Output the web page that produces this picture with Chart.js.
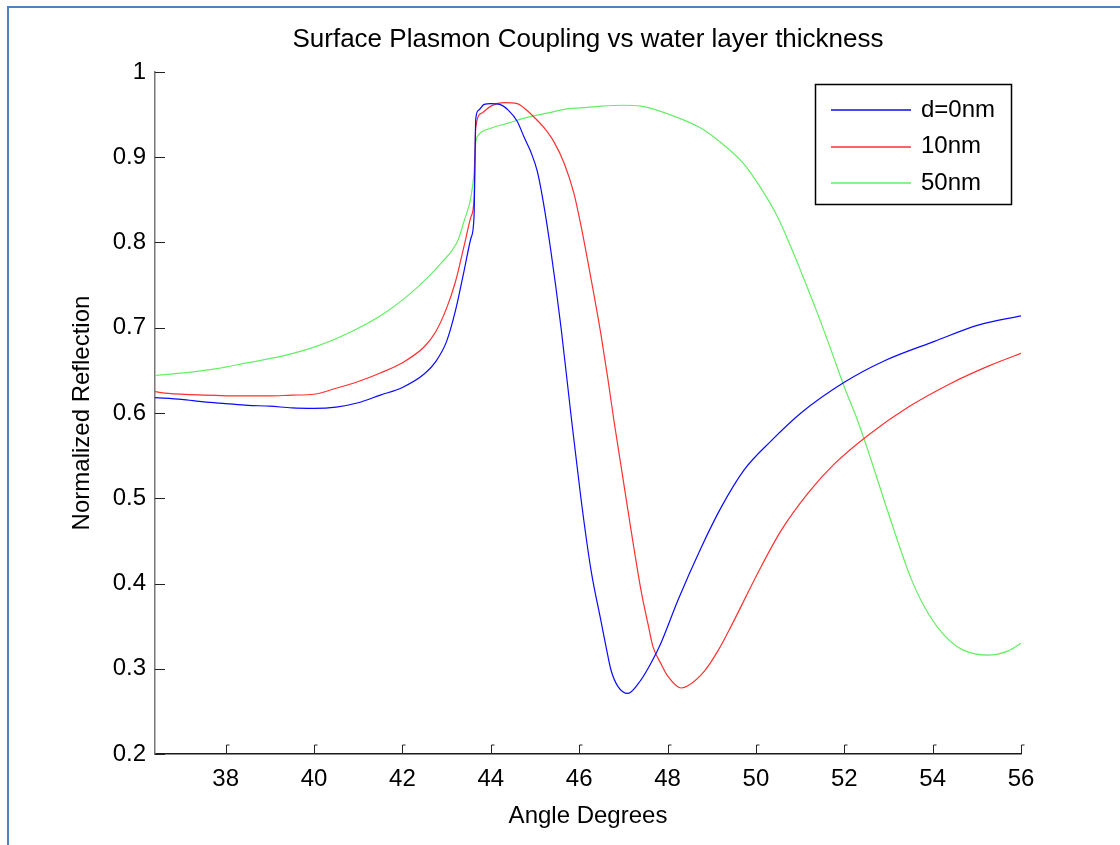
<!DOCTYPE html>
<html>
<head>
<meta charset="utf-8">
<script src="https://cdn.jsdelivr.net/npm/chart.js@4/dist/chart.umd.min.js"></script>
<style>
html,body{margin:0;padding:0;background:#fff;}
canvas{display:block;}
</style>
</head>
<body>
<canvas id="c" width="1120" height="845"></canvas>
<script>
// ---- text ----
const chartTitle = 'Surface Plasmon Coupling vs water layer thickness';
const xAxisTitle = 'Angle Degrees';
const yAxisTitle = 'Normalized Reflection';
const seriesLabels = ['d=0nm', '10nm', '50nm'];

// ---- tick values ----
const xTickValues = [38, 40, 42, 44, 46, 48, 50, 52, 54, 56];
const yTickValues = [0.2, 0.3, 0.4, 0.5, 0.6, 0.7, 0.8, 0.9, 1];

// ---- d = 0 nm (blue) ----
const d0Angle = [36.4, 37.0, 37.5, 38.0, 38.5, 39.0, 39.5, 40.0, 40.5, 41.0, 41.5, 42.0, 42.5, 42.75, 43.0, 43.2, 43.4, 43.55, 43.62, 43.66, 43.72, 43.85, 44.0, 44.2, 44.4, 44.6, 44.75, 44.9, 45.05, 45.18, 45.36, 45.59, 45.81, 46.04, 46.27, 46.49, 46.61, 46.72, 46.88, 47.1, 47.4, 47.63, 47.85, 48.24, 48.76, 49.21, 49.73, 50.34, 51.02, 52.0, 52.9, 54.04, 55.03, 56.0];
const d0Refl  = [0.618, 0.616, 0.613, 0.611, 0.609, 0.608, 0.606, 0.6055, 0.607, 0.612, 0.621, 0.630, 0.646, 0.660, 0.684, 0.720, 0.768, 0.805, 0.83, 0.945, 0.955, 0.962, 0.963, 0.962, 0.955, 0.942, 0.924, 0.907, 0.884, 0.85, 0.79, 0.70, 0.60, 0.50, 0.415, 0.357, 0.3255, 0.2985, 0.279, 0.271, 0.287, 0.307, 0.330, 0.381, 0.442, 0.489, 0.533, 0.567, 0.600, 0.636, 0.661, 0.684, 0.703, 0.714];

// ---- 10 nm (red) ----
const d10Angle = [36.4, 36.7, 37.5, 38.5, 39.0, 39.5, 40.0, 40.5, 41.0, 41.5, 42.0, 42.5, 42.75, 43.0, 43.2, 43.4, 43.55, 43.62, 43.66, 43.8, 44.0, 44.3, 44.6, 44.75, 45.0, 45.2, 45.43, 45.66, 45.88, 46.04, 46.27, 46.49, 46.65, 46.79, 46.95, 47.17, 47.4, 47.56, 47.67, 47.85, 48.01, 48.31, 48.46, 48.83, 49.14, 49.44, 50.05, 50.57, 51.18, 51.77, 52.54, 53.45, 54.42, 55.26, 56.0];
const d10Refl  = [0.625, 0.623, 0.621, 0.620, 0.620, 0.621, 0.622, 0.629, 0.637, 0.647, 0.659, 0.678, 0.695, 0.723, 0.754, 0.797, 0.83, 0.85, 0.935, 0.952, 0.960, 0.964, 0.963, 0.958, 0.946, 0.935, 0.918, 0.893, 0.858, 0.82, 0.757, 0.693, 0.640, 0.590, 0.537, 0.464, 0.392, 0.352, 0.326, 0.306, 0.291, 0.2774, 0.280, 0.297, 0.321, 0.350, 0.413, 0.462, 0.506, 0.540, 0.574, 0.607, 0.635, 0.655, 0.670];

// ---- 50 nm (green) ----
const d50Angle = [36.4, 37.05, 37.8, 38.5, 39.3, 40.1, 40.83, 41.59, 42.35, 42.88, 43.26, 43.4, 43.55, 43.62, 43.66, 43.72, 44.0, 44.39, 44.84, 45.3, 45.75, 46.04, 46.5, 47.0, 47.4, 48.0, 48.76, 49.21, 49.73, 50.11, 50.5, 50.79, 51.09, 51.4, 51.7, 51.99, 52.31, 52.6, 52.9, 53.22, 53.51, 53.81, 54.2, 54.65, 55.26, 55.71, 56.0];
const d50Refl  = [0.644, 0.647, 0.652, 0.659, 0.667, 0.679, 0.695, 0.717, 0.748, 0.776, 0.803, 0.826, 0.853, 0.882, 0.917, 0.926, 0.934, 0.940, 0.947, 0.952, 0.957, 0.958, 0.960, 0.961, 0.960, 0.951, 0.934, 0.917, 0.892, 0.864, 0.829, 0.795, 0.757, 0.716, 0.674, 0.632, 0.590, 0.546, 0.498, 0.448, 0.406, 0.373, 0.343, 0.323, 0.316, 0.321, 0.330];

const seriesColors = ['#0a0aff', '#ff3030', '#66ee66'];

function toPoints(xs, ys) { return xs.map((x, i) => ({ x: x, y: ys[i] })); }

Chart.defaults.font.family = "'Liberation Sans', Arial, Helvetica, sans-serif";
Chart.defaults.color = '#000';

const framePlugin = {
  id: 'frame',
  beforeDraw(chart) {
    const ctx = chart.ctx;
    ctx.save();
    ctx.fillStyle = '#ffffff';
    ctx.fillRect(0, 0, chart.width, chart.height);
    ctx.fillStyle = '#4f81bd';
    ctx.fillRect(7, 6, chart.width - 7, 2);
    ctx.fillRect(7, 6, 2, chart.height - 6);
    ctx.restore();
  }
};

const inwardTicks = {
  id: 'inwardTicks',
  afterDraw(chart) {
    const ctx = chart.ctx;
    const xs = chart.scales.x, ys = chart.scales.y;
    const area = chart.chartArea;
    ctx.save();
    ctx.strokeStyle = '#222';
    ctx.lineWidth = 1;
    ctx.beginPath();
    xs.ticks.forEach(t => {
      const px = Math.round(xs.getPixelForValue(t.value)) + 0.5;
      ctx.moveTo(px, area.bottom);
      ctx.lineTo(px, area.bottom - 9);
      ctx.lineTo(px + 3, area.bottom - 9);
    });
    ys.ticks.forEach(t => {
      const py = Math.round(ys.getPixelForValue(t.value)) + 0.5;
      ctx.moveTo(area.left, py);
      ctx.lineTo(area.left + 10, py);
    });
    ctx.stroke();
    ctx.restore();
  }
};

const boxLegend = {
  id: 'boxLegend',
  afterDraw(chart) {
    const ctx = chart.ctx;
    const area = chart.chartArea;
    const w = 196, h = 120;
    const x0 = area.right - 10 - w, y0 = area.top + 12;
    ctx.save();
    ctx.fillStyle = '#fff';
    ctx.fillRect(x0, y0, w, h);
    ctx.strokeStyle = '#000';
    ctx.lineWidth = 1.5;
    ctx.strokeRect(x0 + 0.5, y0 + 0.5, w, h);
    ctx.font = "24px 'Liberation Sans', Arial, sans-serif";
    ctx.textBaseline = 'middle';
    ctx.textAlign = 'left';
    chart.data.datasets.forEach((ds, i) => {
      const y = y0 + 26 + i * 36.5;
      ctx.strokeStyle = ds.borderColor;
      ctx.lineWidth = 1.5;
      ctx.beginPath();
      ctx.moveTo(x0 + 16, Math.round(y));
      ctx.lineTo(x0 + 96, Math.round(y));
      ctx.stroke();
      ctx.fillStyle = '#000';
      ctx.fillText(ds.label, x0 + 106, y);
    });
    ctx.restore();
  }
};

const datasets = [
  { label: seriesLabels[0], data: toPoints(d0Angle, d0Refl), borderColor: seriesColors[0] },
  { label: seriesLabels[1], data: toPoints(d10Angle, d10Refl), borderColor: seriesColors[1] },
  { label: seriesLabels[2], data: toPoints(d50Angle, d50Refl), borderColor: seriesColors[2] }
].map(d => Object.assign(d, { borderWidth: 1.2, pointRadius: 0, fill: false, cubicInterpolationMode: 'monotone' }));

new Chart(document.getElementById('c'), {
  type: 'line',
  data: { datasets: datasets },
  plugins: [framePlugin, inwardTicks, boxLegend],
  options: {
    responsive: false,
    animation: false,
    devicePixelRatio: 1,
    layout: { padding: { left: 0, right: 99, top: 0, bottom: 0 } },
    plugins: {
      legend: { display: false },
      tooltip: { enabled: false },
      title: {
        display: true, text: chartTitle, color: '#000', fullSize: false,
        font: { size: 26, weight: 'normal' },
        padding: { top: 24.4, bottom: 16.4 }
      }
    },
    scales: {
      x: {
        type: 'linear', min: 36.4, max: 56,
        afterBuildTicks: s => { s.ticks = xTickValues.map(v => ({ value: v })); },
        afterFit: s => { s.height = 91; },
        ticks: { font: { size: 24 }, color: '#000', padding: 11, maxRotation: 0, autoSkip: false, callback: v => String(v) },
        grid: { display: true, color: 'rgba(0,0,0,0)', drawTicks: false, drawOnChartArea: false },
        border: { display: true, color: '#1a1a1a', width: 1.5 },
        title: { display: true, text: xAxisTitle, color: '#000', font: { size: 24 }, padding: { top: 0, bottom: 14 } }
      },
      y: {
        type: 'linear', min: 0.2, max: 1,
        afterBuildTicks: s => { s.ticks = yTickValues.map(v => ({ value: v })); },
        afterFit: s => { s.width = 155; },
        ticks: { font: { size: 24 }, color: '#000', padding: 9, autoSkip: false, callback: v => (+v).toFixed(1).replace(/\.0$/, '') },
        grid: { display: true, color: 'rgba(0,0,0,0)', drawTicks: false, drawOnChartArea: false },
        border: { display: true, color: '#777', width: 1.5 },
        title: { display: true, text: yAxisTitle, color: '#000', font: { size: 24 }, padding: { top: 68, bottom: 0 } }
      }
    }
  }
});
</script>
</body>
</html>
